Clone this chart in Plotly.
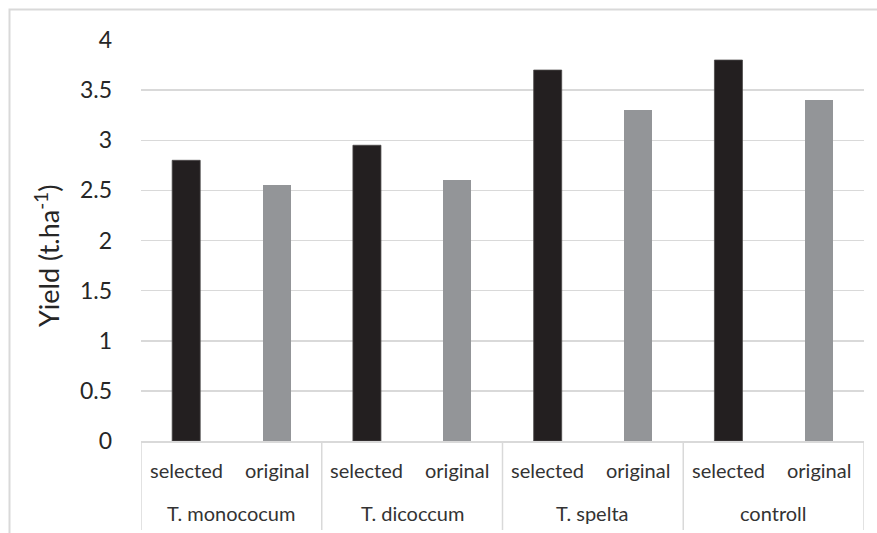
import plotly.graph_objects as go

groups = ["T. monococum", "T. dicoccum", "T. spelta", "controll"]
series_names = ["selected", "original"]
selected_vals = [2.8, 2.95, 3.7, 3.8]
original_vals = [2.55, 2.6, 3.3, 3.4]
y_ticks = [0, 0.5, 1, 1.5, 2, 2.5, 3, 3.5, 4]
y_tick_text = ["0", "0.5", "1", "1.5", "2", "2.5", "3", "3.5", "4"]

W, H = 877, 533
L, R, T, B = 141, 13, 40, 92
PW, PH = W - L - R, H - T - B

def px_x(p):
    return (p - L) / PW

def px_y(p):
    return (H - B - p) / PH

FONT = "Lato, 'Open Sans', sans-serif"
GRID = "#d9d9d9"

n_sub = len(series_names)
x_sel = [i * n_sub + 0 for i in range(len(groups))]
x_org = [i * n_sub + 1 for i in range(len(groups))]

fig = go.Figure()
fig.add_trace(go.Bar(x=x_sel, y=selected_vals, name=series_names[0],
                     marker=dict(color="#231f20", line=dict(color="#4a4748", width=0.8)),
                     width=0.31))
fig.add_trace(go.Bar(x=x_org, y=original_vals, name=series_names[1],
                     marker=dict(color="#939598", line=dict(width=0)),
                     width=0.31))

n_total = len(groups) * n_sub
fig.update_layout(
    width=W, height=H,
    margin=dict(l=L, r=R, t=T, b=B, pad=0),
    paper_bgcolor="white", plot_bgcolor="white",
    showlegend=False,
    bargap=0,
    font=dict(family=FONT, color="#262626"),
    xaxis=dict(range=[-0.5, n_total - 0.5], showticklabels=False, ticks="",
               showgrid=False, zeroline=False, showline=True,
               linecolor=GRID, linewidth=1.5, fixedrange=True),
    yaxis=dict(range=[0, 4], tickvals=y_ticks, ticktext=y_tick_text,
               tickfont=dict(size=23, color="#262626", family=FONT),
               showgrid=True, gridcolor=GRID, gridwidth=1.5,
               zeroline=False, showline=False, ticks="",
               ticklabelstandoff=28, fixedrange=True),
)

# y-axis title
fig.add_annotation(text="Yield (t.ha<sup>-1</sup>)", xref="paper", yref="paper",
                   x=px_x(47), y=px_y(256), textangle=-90, showarrow=False,
                   font=dict(size=27, color="#262626", family=FONT),
                   xanchor="center", yanchor="middle")

# category dividers and labels
for gi, g in enumerate(groups):
    x0 = gi * n_sub - 0.5
    fig.add_shape(type="line", xref="x", yref="paper", x0=x0, x1=x0,
                  y0=0, y1=px_y(530), line=dict(color=GRID, width=1.5))
    for si, s in enumerate(series_names):
        fig.add_annotation(text=s, xref="x", yref="paper", x=gi * n_sub + si,
                           y=px_y(470), showarrow=False, xanchor="center", yanchor="middle",
                           font=dict(size=20, color="#333333", family=FONT))
    fig.add_annotation(text=g, xref="x", yref="paper", x=gi * n_sub + (n_sub - 1) / 2,
                       y=px_y(513), showarrow=False, xanchor="center", yanchor="middle",
                       font=dict(size=20, color="#333333", family=FONT))
fig.add_shape(type="line", xref="x", yref="paper", x0=n_total - 0.5, x1=n_total - 0.5,
              y0=0, y1=px_y(530), line=dict(color=GRID, width=1.5))

# outer chart border
fig.add_shape(type="rect", xref="paper", yref="paper",
              x0=px_x(9.5), x1=px_x(890), y0=px_y(9.5), y1=px_y(560),
              line=dict(color=GRID, width=2), fillcolor="rgba(0,0,0,0)", layer="below")

fig.write_html("out.html",
               config={"displayModeBar": False, "staticPlot": True},
               post_script="document.body.style.margin='0';document.body.style.overflow='hidden';")
